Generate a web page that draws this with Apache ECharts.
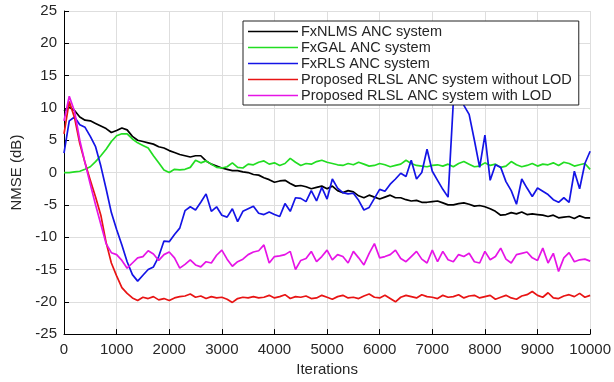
<!DOCTYPE html>
<html>
<head>
<meta charset="utf-8">
<script src="https://cdn.jsdelivr.net/npm/echarts@6/dist/echarts.min.js"></script>
<style>
  html, body { margin: 0; padding: 0; background: #fff; }
  #chart { width: 614px; height: 382px; }
</style>
</head>
<body>
<div id="chart"></div>
<script>
// NMSE learning curves, sampled every 100 iterations
const iterations = Array.from({ length: 101 }, (_, i) => i * 100);

const seriesNames = [
  'FxNLMS ANC system',
  'FxGAL ANC system',
  'FxRLS ANC system',
  'Proposed RLSL ANC system without LOD',
  'Proposed RLSL ANC system with LOD'
];

const fxnlms = [
  9.5, 10.1, 9.6, 8.6, 8.1, 8.0, 7.6, 7.2, 6.8, 6.2,
  6.5, 6.9, 6.6, 5.6, 5.0, 4.8, 4.6, 4.4, 4.0, 3.8,
  3.4, 3.1, 2.8, 2.6, 2.4, 2.6, 2.6, 1.8, 1.3, 1.0,
  0.7, 0.5, 0.3, 0.3, 0.1, 0.0, -0.3, -0.4, -0.8, -1.1,
  -1.5, -1.3, -1.2, -1.7, -2.1, -2.0, -2.2, -2.5, -2.3, -2.1,
  -2.5, -2.1, -2.8, -3.1, -2.8, -3.0, -3.6, -3.9, -3.5, -3.8,
  -4.1, -3.8, -3.5, -3.9, -3.9, -4.2, -4.4, -4.3, -4.6, -4.6,
  -4.5, -4.4, -4.7, -5.0, -5.0, -4.8, -4.7, -4.9, -5.2, -5.1,
  -5.3, -5.6, -6.0, -6.6, -6.5, -6.2, -6.4, -6.1, -6.5, -6.4,
  -6.5, -6.6, -6.8, -6.6, -7.0, -6.9, -6.8, -7.1, -6.7, -7.0,
  -7.0
];

const fxgal = [
  0.0, 0.0, 0.1, 0.2, 0.5, 0.9, 1.7, 2.6, 3.6, 4.8,
  5.7, 6.0, 6.0, 5.2, 4.6, 4.2, 3.8, 2.6, 1.5, 0.4,
  0.0, 0.5, 0.4, 0.5, 0.8, 1.9, 1.5, 1.8, 1.3, 0.8,
  0.7, 0.9, 1.5, 0.8, 0.7, 1.3, 1.2, 1.6, 1.8, 1.3,
  1.5, 1.1, 1.4, 2.2, 1.6, 1.1, 1.4, 1.3, 1.7, 1.9,
  1.6, 1.4, 1.2, 1.1, 1.4, 1.2, 1.6, 1.3, 1.0, 1.1,
  1.4, 1.2, 0.9, 1.1, 1.3, 1.9, 1.4, 1.1, 1.0, 0.9,
  1.1, 1.2, 1.0, 1.3, 0.9, 1.4, 1.7, 1.3, 0.9, 1.0,
  1.5, 1.1, 1.3, 0.8, 1.0, 1.7, 1.2, 0.9, 1.1, 1.4,
  1.0, 1.3, 1.2, 1.5, 1.1, 1.6, 1.4, 1.0, 1.2, 1.4,
  0.5
];

const fxrls = [
  3.0, 8.0, 8.6, 7.4, 7.0, 5.6, 4.0, 1.0, -2.5, -6.2,
  -8.8, -11.2, -13.8, -15.8, -16.8, -15.9, -15.0, -14.6, -13.0, -10.6,
  -10.7, -9.6, -8.6, -5.9, -5.3, -5.8, -4.6, -3.3, -6.0, -5.3,
  -6.6, -6.9, -5.6, -7.6, -6.0, -5.6, -5.2, -6.3, -6.5, -6.1,
  -6.5, -6.8, -4.8, -6.0, -3.9, -4.0, -4.5, -2.8, -4.4, -2.3,
  -4.1, -1.0, -2.4, -3.1, -3.3, -3.2, -4.3, -5.8, -5.4, -4.0,
  -2.6, -2.9, -1.8, -1.0, -0.1, -0.6, 1.9, -1.0, 0.0, 3.6,
  0.2, -1.2, -2.6, -3.8, 11.0, 14.0, 10.4, 9.0, 5.0, 0.8,
  5.8, -1.2, 1.2, 0.8, -1.4, -2.8, -4.9, -1.0, -2.4, -3.7,
  -2.4, -2.9, -3.4, -4.2, -4.6, -3.9, -4.6, 0.2, -2.5, 1.4,
  3.3
];

const rlslNoLod = [
  6.0, 11.0, 8.5, 4.5, 1.5, -1.2, -3.8, -6.6, -10.8, -14.0,
  -16.0, -17.8, -18.7, -19.4, -19.8, -19.3, -19.5, -19.2, -19.7, -19.5,
  -19.8, -19.4, -19.2, -19.1, -18.8, -19.3, -19.1, -19.5, -19.2, -19.4,
  -19.3, -19.6, -20.1, -19.5, -19.3, -19.4, -19.2, -19.4, -19.3, -19.0,
  -19.4, -19.2, -18.9, -19.5, -19.2, -19.3, -19.1, -19.5, -19.4, -19.0,
  -19.3, -19.6, -19.2, -19.0, -19.4, -19.3, -19.5, -19.1, -18.8, -19.3,
  -19.4, -19.0, -19.5, -20.0, -19.3, -19.0, -19.2, -19.4, -18.9, -19.2,
  -19.3, -19.5, -19.0, -19.3, -19.2, -18.9, -19.4, -19.1, -19.0, -19.4,
  -19.2, -19.0, -19.6, -19.3, -19.0, -19.4, -19.6, -19.1, -18.9, -18.4,
  -19.0, -19.3, -18.6, -19.4, -19.5, -19.1, -18.9, -19.2, -18.7, -19.3,
  -19.0
];

const rlslLod = [
  8.0, 11.8, 9.5, 5.0, 1.5, -1.8, -5.0, -8.0, -11.0, -12.4,
  -12.7, -13.6, -14.8, -14.0, -13.2, -13.0, -12.1, -12.6, -13.6, -12.7,
  -12.3, -13.2, -14.8, -14.2, -13.5, -14.3, -14.6, -13.8, -14.0, -12.8,
  -12.0, -13.4, -14.5, -13.8, -13.4, -12.7, -12.3, -12.1, -11.2, -14.0,
  -13.0, -12.9, -12.7, -12.2, -15.0, -13.6, -13.3, -12.2, -13.8, -13.0,
  -12.0, -13.5, -12.7, -13.0, -14.0, -12.2, -13.2, -14.3, -12.5, -11.0,
  -13.2, -13.0, -12.7, -12.0, -13.3, -13.8, -13.0, -12.2, -13.4, -14.0,
  -12.0, -13.8, -12.2, -13.5, -13.8, -12.7, -13.0, -12.5, -13.8, -14.0,
  -12.2, -13.5, -13.0, -11.7, -13.4, -14.0, -12.7, -12.5, -12.3, -13.2,
  -13.6, -11.7, -14.0, -12.5, -15.3, -13.2, -12.4, -13.8, -13.5, -13.4,
  -13.7
];

const xTicks = [0, 1000, 2000, 3000, 4000, 5000, 6000, 7000, 8000, 9000, 10000];
const yTicks = [-25, -20, -15, -10, -5, 0, 5, 10, 15, 20, 25];

const curveValues = [fxnlms, fxgal, fxrls, rlslNoLod, rlslLod];
const curveColors = ['#000000', '#22dd22', '#1414e6', '#e81414', '#e614e6'];

const font = 'Liberation Sans, Arial, Helvetica, sans-serif';
const textColor = '#262626';

const chart = echarts.init(document.getElementById('chart'), null, { renderer: 'canvas' });

chart.setOption({
  animation: false,
  backgroundColor: '#ffffff',
  grid: { left: 64, right: 22, top: 11, bottom: 45, containLabel: false },
  legend: {
    orient: 'vertical',
    left: 243,
    top: 21,
    z: 10,
    padding: [3, 7, 2, 5],
    itemGap: 1,
    itemWidth: 50,
    itemHeight: 1.4,
    icon: 'rect',
    backgroundColor: '#ffffff',
    borderColor: '#222222',
    borderWidth: 1,
    borderRadius: 0,
    data: seriesNames,
    textStyle: { fontFamily: font, fontSize: 14.5, color: textColor, lineHeight: 15, padding: [0, 0, 0, -2] }
  },
  xAxis: {
    type: 'value',
    min: xTicks[0],
    max: xTicks[xTicks.length - 1],
    interval: 1000,
    name: 'Iterations',
    nameLocation: 'middle',
    nameGap: 25,
    nameTextStyle: { fontFamily: font, fontSize: 15, color: textColor },
    axisLine: { show: true, onZero: false, lineStyle: { color: '#000', width: 1 } },
    axisTick: { show: true, inside: true, length: 5, lineStyle: { color: '#000' } },
    axisLabel: { fontFamily: font, fontSize: 15, color: textColor, margin: 8, formatter: v => String(v) },
    splitLine: { show: true, lineStyle: { color: '#dedede', width: 1 } }
  },
  yAxis: {
    type: 'value',
    min: yTicks[0],
    max: yTicks[yTicks.length - 1],
    interval: 5,
    name: 'NMSE (dB)',
    nameLocation: 'middle',
    nameGap: 40,
    nameTextStyle: { fontFamily: font, fontSize: 15, color: textColor },
    axisLine: { show: true, onZero: false, lineStyle: { color: '#000', width: 1 } },
    axisTick: { show: true, inside: true, length: 5, lineStyle: { color: '#000' } },
    axisLabel: { fontFamily: font, fontSize: 15, color: textColor, margin: 7, formatter: v => String(v) },
    splitLine: { show: true, lineStyle: { color: '#dedede', width: 1 } }
  },
  series: seriesNames.map((name, k) => ({
    name: name,
    type: 'line',
    symbol: 'none',
    smooth: false,
    clip: true,
    z: 2,
    data: iterations.map((it, i) => [it, curveValues[k][i]]),
    lineStyle: { color: curveColors[k], width: 1.7 },
    itemStyle: { color: curveColors[k] }
  }))
});
</script>
</body>
</html>
